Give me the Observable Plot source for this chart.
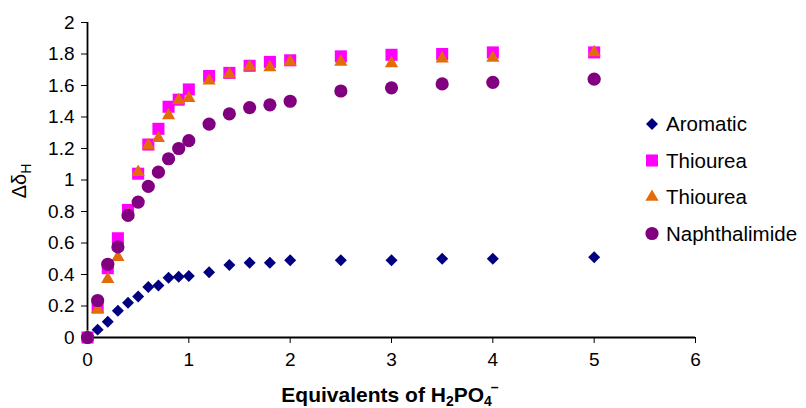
<!DOCTYPE html>
<html>
<head>
<meta charset="utf-8">
<script src="https://cdn.jsdelivr.net/npm/d3@7"></script>
<script src="https://cdn.jsdelivr.net/npm/@observablehq/plot@0.6"></script>
<style>
  html, body { margin: 0; padding: 0; background: #fff; }
  #chart { width: 806px; height: 408px; position: relative; }
  svg { font-family: "Liberation Sans", Arial, sans-serif; }
</style>
</head>
<body>
<div id="chart"></div>
<script>
// ---- data ----
const equivalents = [0, 0.1, 0.2, 0.3, 0.4, 0.5, 0.6, 0.7, 0.8, 0.9, 1.0, 1.2, 1.4, 1.6, 1.8, 2.0, 2.5, 3.0, 3.5, 4.0, 5.0];
const aromatic     = [0, 0.05, 0.10, 0.17, 0.22, 0.26, 0.32, 0.33, 0.38, 0.385, 0.39, 0.415, 0.46, 0.475, 0.475, 0.49, 0.49, 0.49, 0.50, 0.50, 0.51];
const thioureaA    = [0, 0.19, 0.44, 0.63, 0.81, 1.04, 1.225, 1.325, 1.465, 1.51, 1.575, 1.66, 1.68, 1.725, 1.75, 1.76, 1.785, 1.795, 1.80, 1.81, 1.81];
const thioureaB    = [0, 0.18, 0.37, 0.51, 0.78, 1.05, 1.22, 1.265, 1.41, 1.505, 1.52, 1.63, 1.67, 1.72, 1.715, 1.75, 1.75, 1.74, 1.77, 1.775, 1.81];
const naphthalimide= [0, 0.235, 0.465, 0.575, 0.775, 0.86, 0.96, 1.05, 1.135, 1.2, 1.25, 1.355, 1.42, 1.46, 1.477, 1.5, 1.565, 1.585, 1.61, 1.62, 1.64];

const seriesNames  = ["Aromatic", "Thiourea", "Thiourea", "Naphthalimide"];
const seriesColors = ["#000080", "#ff00ff", "#e36c0a", "#800080"];
const seriesSymbols= ["diamond2", "square", "triangle", "circle"];
const seriesRadius = [5.4, 6.8, 4.9, 6.6];

const xTicks = [0, 1, 2, 3, 4, 5, 6];
const yTicks = [0, 0.2, 0.4, 0.6, 0.8, 1, 1.2, 1.4, 1.6, 1.8, 2];

const allSeries = [aromatic, thioureaA, thioureaB, naphthalimide];
const toRows = (vals) => equivalents.map((x, i) => ({x, y: vals[i]}));

const fmt = d => String(+d.toFixed(1));

const marks = [
  Plot.axisY({ticks: yTicks, tickSize: 6, tickPadding: 7, tickFormat: fmt, fontSize: 19, label: null, stroke: "#000", color: "#000"}),
  Plot.axisX({ticks: xTicks, tickSize: 6, tickPadding: 9, tickFormat: fmt, fontSize: 19, label: null, stroke: "#000", color: "#000"}),
  Plot.ruleX([0], {stroke: "#000", strokeWidth: 1.8}),
  Plot.ruleY([0], {stroke: "#000", strokeWidth: 1.8})
];
allSeries.forEach((vals, i) => {
  marks.push(Plot.dot(toRows(vals), {
    x: "x", y: "y",
    symbol: () => seriesSymbols[i],
    r: seriesRadius[i],
    fill: seriesColors[i],
    stroke: "none"
  }));
});

const plot = Plot.plot({
  width: 806,
  height: 408,
  marginLeft: 87,
  marginRight: 111,
  marginTop: 22,
  marginBottom: 71,
  x: {domain: [0, 6]},
  y: {domain: [0, 2]},
  symbol: {type: "identity"},
  style: {fontFamily: "Liberation Sans, Arial, sans-serif", fontSize: "19px", color: "#000", background: "#fff"},
  marks
});
document.getElementById("chart").appendChild(plot);

const svg = d3.select(plot);

// x axis title
const xt = svg.append("text")
  .attr("x", 390).attr("y", 402)
  .attr("text-anchor", "middle")
  .attr("font-size", 21).attr("font-weight", "bold").attr("fill", "#000");
xt.append("tspan").text("Equivalents of H");
xt.append("tspan").attr("font-size", 14).attr("dy", 4).text("2");
xt.append("tspan").attr("dy", -4).text("PO");
xt.append("tspan").attr("font-size", 14).attr("dy", 4).text("4");
xt.append("tspan").attr("font-size", 14).attr("dx", -1).attr("dy", -14).text("\u2013");

// y axis title
const yt = svg.append("text")
  .attr("transform", "translate(26,181) rotate(-90)")
  .attr("text-anchor", "middle")
  .attr("font-size", 20).attr("fill", "#000");
yt.append("tspan").text("\u0394\u03b4");
yt.append("tspan").attr("font-size", 14).attr("dy", 5).text("H");

// legend
const legend = svg.append("g").attr("text-anchor", "start");
seriesNames.forEach((name, i) => {
  const g = legend.append("g").attr("transform", `translate(652,${124 + i * 36.5})`);
  const typ = {diamond2: d3.symbolDiamond2, square: d3.symbolSquare, triangle: d3.symbolTriangle, circle: d3.symbolCircle}[seriesSymbols[i]];
  g.append("path")
    .attr("d", d3.symbol(typ, Math.PI * seriesRadius[i] * seriesRadius[i])())
    .attr("fill", seriesColors[i]);
  g.append("text").attr("x", 14).attr("dy", "0.35em")
    .attr("text-anchor", "start")
    .attr("font-size", 20.5).attr("fill", "#000").text(name);
});
</script>
</body>
</html>
